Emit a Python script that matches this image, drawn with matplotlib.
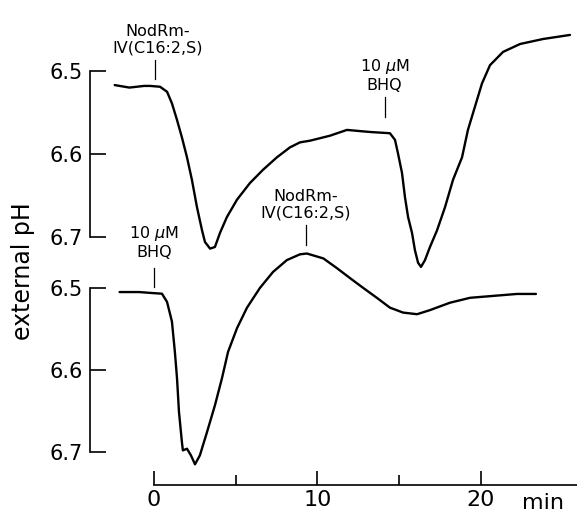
import numpy as np
import matplotlib.pyplot as plt

plt.rcParams['font.family'] = ['DejaVu Sans']

# upper trace: NodRm-IV(C16:2,S) at 0 min, then 10 uM BHQ at ~14 min
t_top = [-2.4, -1.5, -0.6, -0.24, 0.37, 0.80, 1.10, 1.41, 1.71, 2.02, 2.32, 2.63,
         2.94, 3.12, 3.43, 3.73, 4.04, 4.46, 5.08, 5.87, 6.67, 7.52, 8.32, 8.93,
         9.54, 10.76, 11.8, 13.21, 14.43, 14.74, 14.92, 15.17, 15.35, 15.54,
         15.78, 15.96, 16.15, 16.33, 16.57, 16.88, 17.31, 17.80, 18.29, 18.84,
         19.2, 19.63, 20.06, 20.55, 21.35, 22.39, 23.79, 25.44]
ph_top = [6.517, 6.520, 6.518, 6.518, 6.519, 6.525, 6.539, 6.559, 6.580, 6.604,
          6.631, 6.664, 6.692, 6.706, 6.714, 6.712, 6.695, 6.676, 6.655, 6.635,
          6.619, 6.604, 6.592, 6.586, 6.584, 6.578, 6.571, 6.5735, 6.575, 6.583,
          6.599, 6.623, 6.652, 6.676, 6.695, 6.716, 6.731, 6.736, 6.728, 6.712,
          6.692, 6.664, 6.631, 6.604, 6.571, 6.543, 6.515, 6.493, 6.477,
          6.4675, 6.4615, 6.4566]

# lower trace: 10 uM BHQ at 0 min, then NodRm-IV(C16:2,S) at ~9.3 min
t_bot = [-2.1, -0.9, -0.24, 0.49, 0.8, 1.1, 1.28, 1.41, 1.53, 1.71, 1.77, 2.02,
         2.26, 2.51, 2.81, 3.24, 3.73, 4.16, 4.53, 5.08, 5.69, 6.48, 7.28, 8.13,
         8.93, 9.35, 10.36, 11.2, 11.99, 12.8, 13.63, 14.43, 15.23, 16.09,
         16.88, 18.1, 19.33, 20.55, 22.2, 23.36]
ph_bot = [6.505, 6.505, 6.506, 6.507, 6.517, 6.541, 6.578, 6.610, 6.651, 6.688,
          6.698, 6.696, 6.704, 6.715, 6.704, 6.676, 6.643, 6.610, 6.578, 6.549,
          6.524, 6.500, 6.4805, 6.466, 6.459, 6.458, 6.464, 6.476, 6.488, 6.500,
          6.512, 6.524, 6.530, 6.532, 6.527, 6.518, 6.512, 6.510, 6.5073, 6.5073]

ph_ticks = [6.5, 6.6, 6.7]
ph_labels = ['6.5', '6.6', '6.7']
x_major = [0, 10, 20]
x_minor = [5, 15]

xlim = (-3.91, 25.87)

fig = plt.figure(figsize=(5.77, 5.13), dpi=100)
ax1 = fig.add_axes([0.156, 0.4932, 0.844, 0.5068])
ax2 = fig.add_axes([0.156, 0.0546, 0.844, 0.4386])

ax1.plot(t_top, ph_top, color='black', lw=1.7, clip_on=False,
         solid_joinstyle='round', solid_capstyle='round')
ax2.plot(t_bot, ph_bot, color='black', lw=1.7, clip_on=False,
         solid_joinstyle='round', solid_capstyle='round')

ax1.set_ylim(6.7277, 6.4145)
ax2.set_ylim(6.7402, 6.4659)

for ax in (ax1, ax2):
    ax.set_xlim(*xlim)
    ax.set_facecolor('none')
    ax.spines['top'].set_visible(False)
    ax.spines['right'].set_visible(False)
    ax.spines['left'].set_bounds(6.5, 6.7)
    ax.spines['left'].set_linewidth(1.2)
    ax.set_yticks(ph_ticks)
    ax.set_yticklabels(ph_labels, fontsize=15)
    ax.tick_params(axis='y', direction='in', length=11.5, width=1.2, pad=5)

ax1.spines['bottom'].set_visible(False)
ax1.set_xticks([])

ax2.spines['bottom'].set_bounds(0, xlim[1])
ax2.spines['bottom'].set_linewidth(1.2)
ax2.set_xticks(x_major)
ax2.set_xticklabels([str(v) for v in x_major], fontsize=16)
ax2.set_xticks(x_minor, minor=True)
ax2.tick_params(axis='x', which='major', direction='in', length=10, width=1.2, pad=3.5)
ax2.tick_params(axis='x', which='minor', direction='in', length=7, width=1.2)
ax2.annotate('min', xy=(23.8, 0), xycoords=('data', 'axes fraction'),
             xytext=(0, -17.0), textcoords='offset points',
             fontsize=16, ha='center', va='baseline')

fig.text(0.040, 0.472, 'external pH', rotation=90, fontsize=17,
         ha='center', va='center')


# stimulus markers: text bottom, then a short vertical line down to the trace
def marker(ax, x, y_text, y0, y1, label, dx=0.0):
    ax.plot([x, x], [y0, y1], color='black', lw=0.9, clip_on=False)
    ax.text(x + dx, y_text, label, ha='center', va='bottom', fontsize=11.5,
            linespacing=1.2, clip_on=False)


marker(ax1, 0.06, 6.4819, 6.4867, 6.5096, 'NodRm-\nIV(C16:2,S)', dx=0.15)
marker(ax1, 14.1, 6.5265, 6.5313, 6.5554, '10 $\\mu$M\nBHQ')
marker(ax2, 0.0, 6.4659, 6.4756, 6.4988, '10 $\\mu$M\nBHQ')
marker(ax2, 9.3, 6.4183, 6.4232, 6.4476, 'NodRm-\nIV(C16:2,S)')

fig.savefig('out.png', dpi=100)
